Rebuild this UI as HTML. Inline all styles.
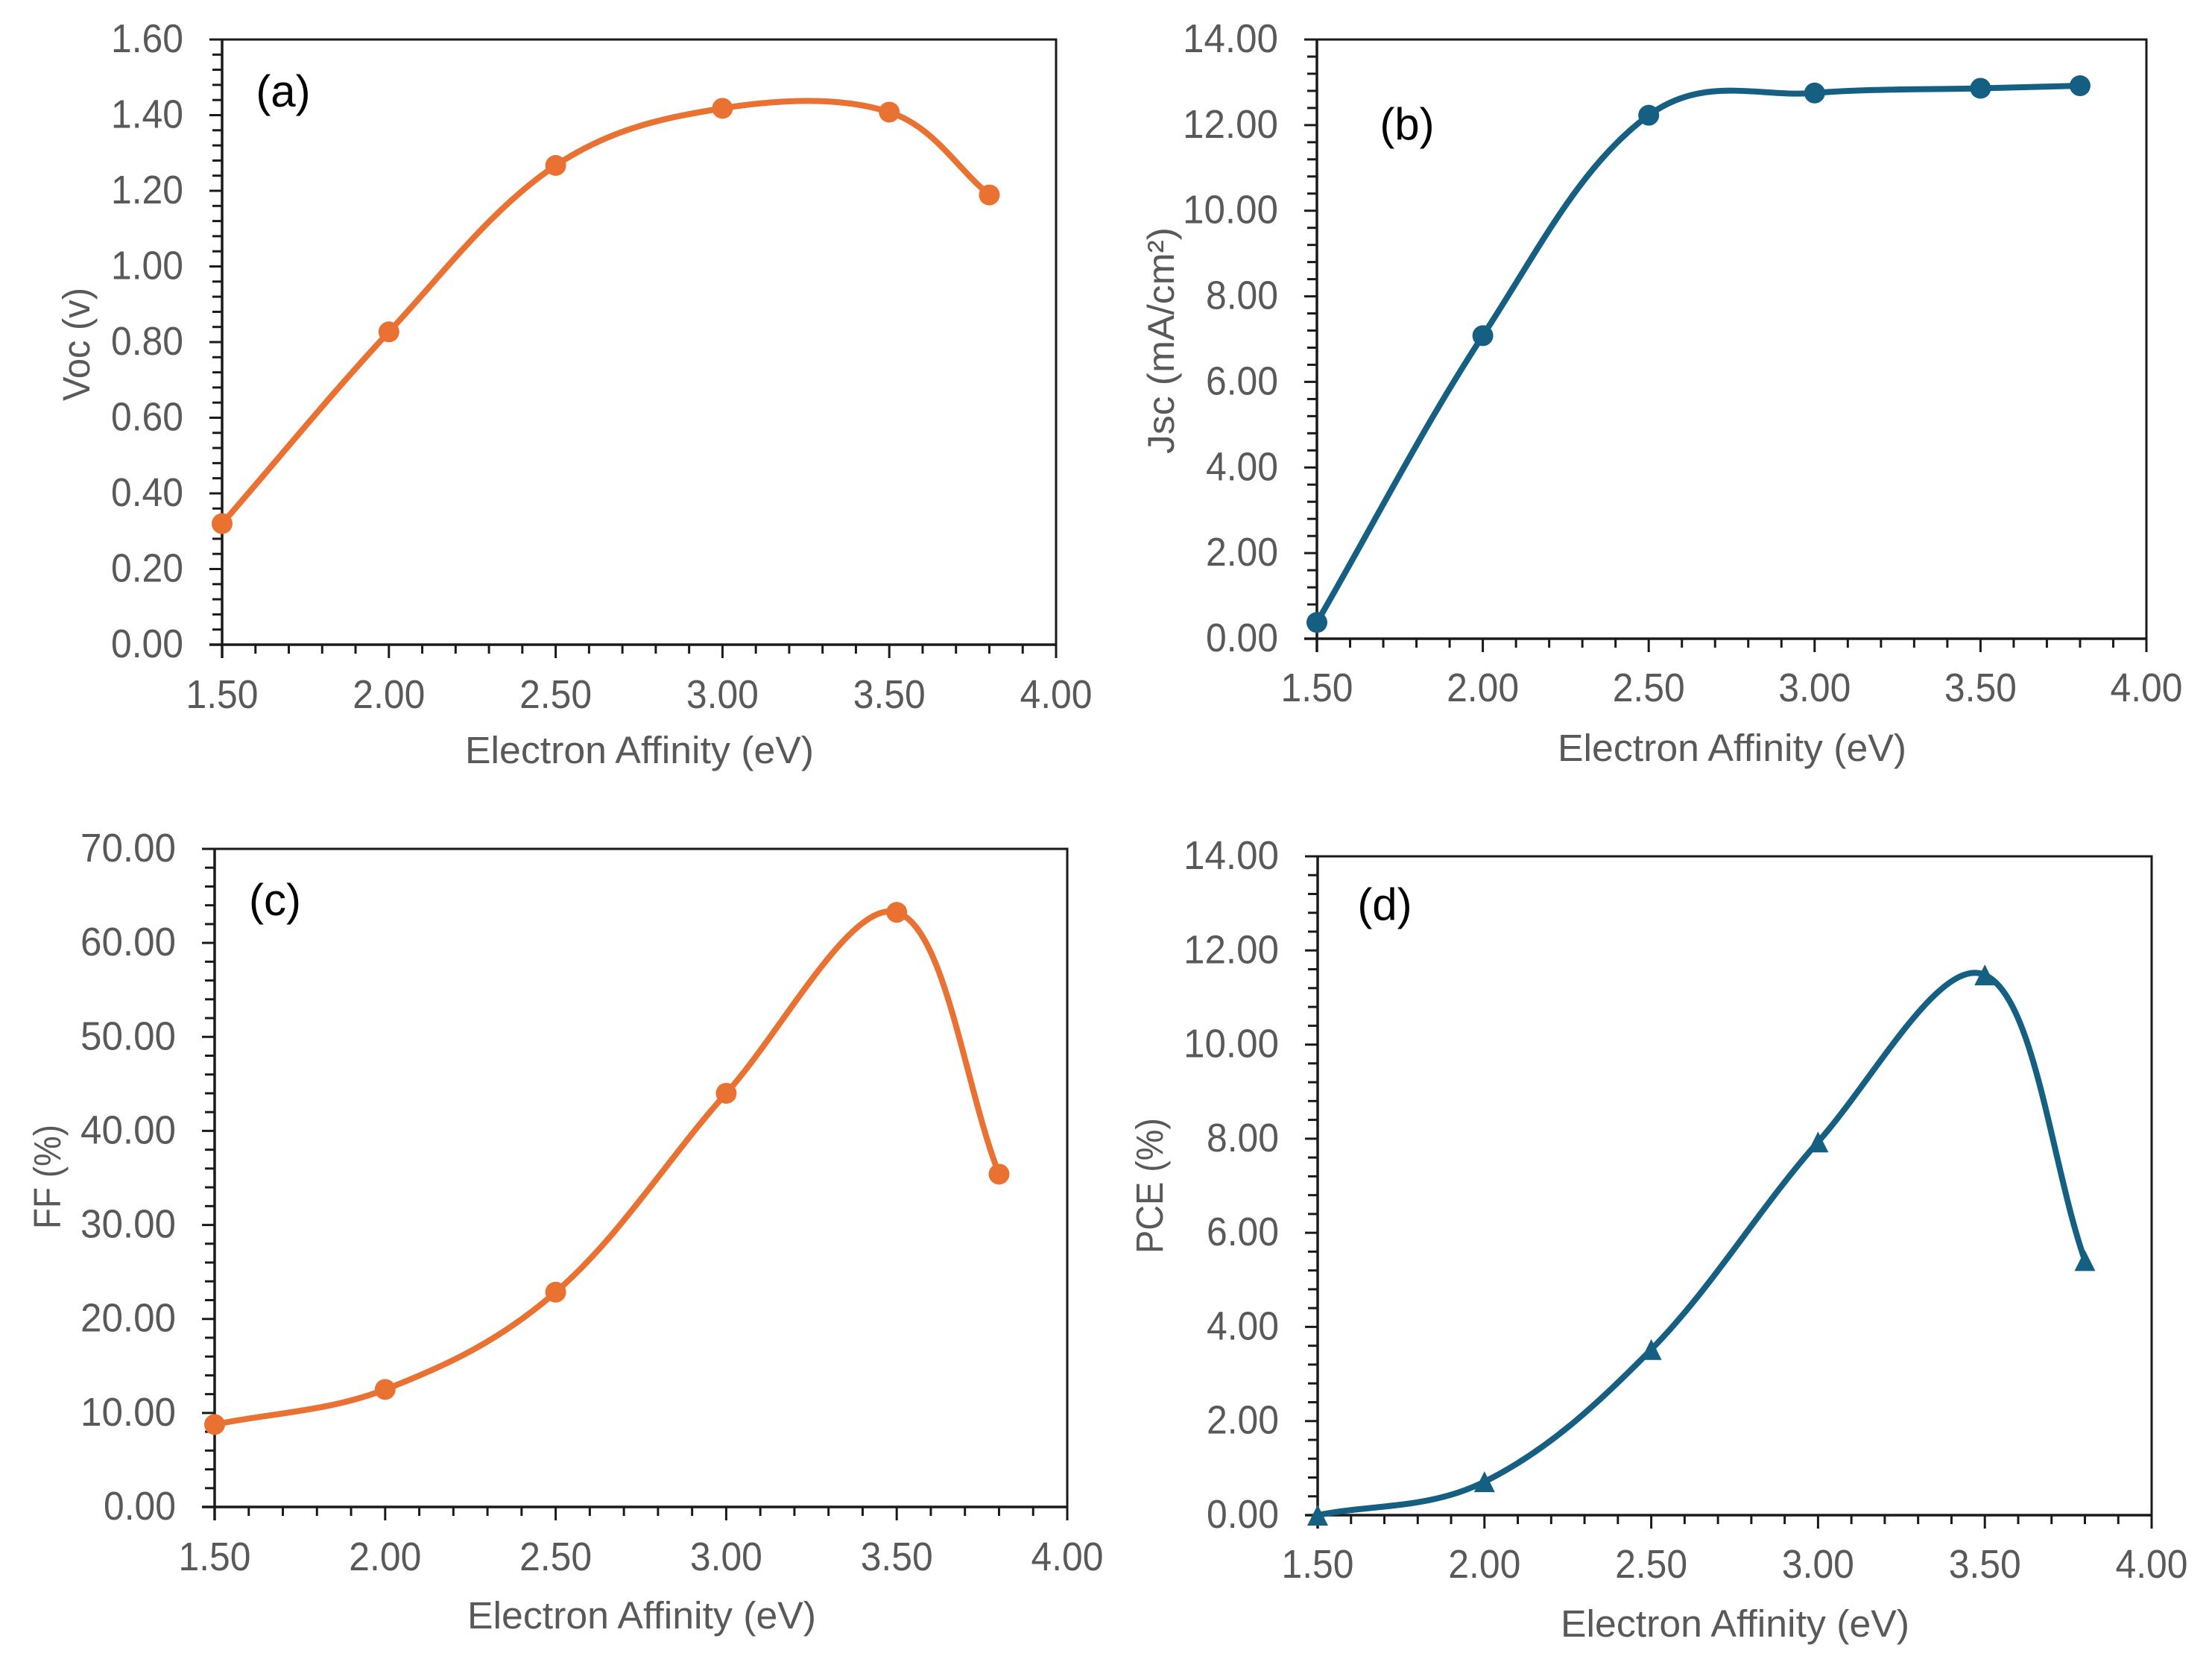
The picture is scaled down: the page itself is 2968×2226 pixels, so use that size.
<!DOCTYPE html>
<html lang="en">
<head>
<meta charset="utf-8">
<title>Electron affinity performance charts</title>
<style>
html,body{margin:0;padding:0;background:#fff;}
svg{display:block;}
text{font-family:"Liberation Sans",sans-serif;fill:#595959;}
.letter{fill:#000;}
</style>
</head>
<body>
<svg id="figure" xmlns="http://www.w3.org/2000/svg" width="2968" height="2226" viewBox="0 0 2968 2226">
<rect x="0" y="0" width="2968" height="2226" fill="#fff"/>

<g id="panel-a">
<text x="858" y="1024" font-size="51" text-anchor="middle" textLength="468" lengthAdjust="spacingAndGlyphs">Electron Affinity (eV)</text>
<text transform="translate(120,462) rotate(-90)" font-size="51" text-anchor="middle" textLength="152" lengthAdjust="spacingAndGlyphs">Voc (v)</text>
<text class="letter" x="380" y="143" font-size="60" text-anchor="middle">(a)</text>
</g>

<g id="panel-b">
<text x="2324" y="1021" font-size="51" text-anchor="middle" textLength="468" lengthAdjust="spacingAndGlyphs">Electron Affinity (eV)</text>
<text transform="translate(1575,457) rotate(-90)" font-size="50" text-anchor="middle" textLength="304" lengthAdjust="spacingAndGlyphs">Jsc (mA/cm²)</text>
<text class="letter" x="1888" y="187" font-size="60" text-anchor="middle">(b)</text>
</g>

<g id="panel-c">
<text x="861" y="2185" font-size="51" text-anchor="middle" textLength="468" lengthAdjust="spacingAndGlyphs">Electron Affinity (eV)</text>
<text transform="translate(81,1579) rotate(-90)" font-size="51" text-anchor="middle" textLength="140" lengthAdjust="spacingAndGlyphs">FF (%)</text>
<text class="letter" x="369" y="1228" font-size="60" text-anchor="middle">(c)</text>
</g>

<g id="panel-d">
<text x="2328" y="2196" font-size="51" text-anchor="middle" textLength="468" lengthAdjust="spacingAndGlyphs">Electron Affinity (eV)</text>
<text transform="translate(1560,1591) rotate(-90)" font-size="51" text-anchor="middle" textLength="182" lengthAdjust="spacingAndGlyphs">PCE (%)</text>
<text class="letter" x="1858" y="1234" font-size="60" text-anchor="middle">(d)</text>
</g>
</svg>

<script>
// Shared category values and tick labels
const electronAffinity = [1.5, 2.0, 2.5, 3.0, 3.5, 3.8];
const xTickLabels = ["1.50", "2.00", "2.50", "3.00", "3.50", "4.00"];

// Series values
const vocValues = [0.32, 0.827, 1.267, 1.418, 1.408, 1.189];
const jscValues = [0.38, 7.08, 12.23, 12.75, 12.86, 12.92];
const ffValues = [8.77, 12.5, 22.85, 44.0, 63.25, 35.4];
const pceValues = [0.0, 0.71, 3.52, 7.93, 11.48, 5.41];

// Y tick labels
const vocTickLabels = ["0.00", "0.20", "0.40", "0.60", "0.80", "1.00", "1.20", "1.40", "1.60"];
const jscTickLabels = ["0.00", "2.00", "4.00", "6.00", "8.00", "10.00", "12.00", "14.00"];
const ffTickLabels = ["0.00", "10.00", "20.00", "30.00", "40.00", "50.00", "60.00", "70.00"];
const pceTickLabels = ["0.00", "2.00", "4.00", "6.00", "8.00", "10.00", "12.00", "14.00"];

const NS = "http://www.w3.org/2000/svg";
const AXIS = "#1a1a1a";
const TENSION = 1 / 3;

function mk(parent, tag, props) {
  const el = document.createElementNS(NS, tag);
  for (const k in props) el.setAttribute(k, props[k]);
  parent.appendChild(el);
  return el;
}

function drawPanel(id, box, yLabels, values, color, marker, labelY) {
  const g = document.getElementById(id);
  const xMin = parseFloat(xTickLabels[0]);
  const xMax = parseFloat(xTickLabels[xTickLabels.length - 1]);
  const yMin = parseFloat(yLabels[0]);
  const yMax = parseFloat(yLabels[yLabels.length - 1]);
  const xScale = v => box.left + (v - xMin) / (xMax - xMin) * (box.right - box.left);
  const yScale = v => box.bottom - (v - yMin) / (yMax - yMin) * (box.bottom - box.top);

  // Frame: top and right
  const frame = mk(g, "path", {
    d: `M${box.left} ${box.top}H${box.right}V${box.bottom}`,
    fill: "none", stroke: AXIS, "stroke-width": 3
  });
  
  

  // X axis
  const xAxis = mk(g, "line", { x1: box.left - 17, x2: box.right, y1: box.bottom, y2: box.bottom, stroke: AXIS, "stroke-width": 3.5 });
  
  

  // Y axis
  const yAxis = mk(g, "line", { x1: box.left, x2: box.left, y1: box.top, y2: box.bottom + 18, stroke: AXIS, "stroke-width": 3.5 });
  
  

  // X ticks and labels
  xTickLabels.forEach((label, i) => {
    const v = parseFloat(label);
    const t = mk(g, "line", { x1: xScale(v), x2: xScale(v), y1: box.bottom, y2: box.bottom + 18, stroke: AXIS, "stroke-width": 3 });
    
    
    const txt = mk(g, "text", { x: xScale(v), y: labelY + 16, "font-size": 54, "text-anchor": "middle", textLength: 97, lengthAdjust: "spacingAndGlyphs" });
    txt.textContent = label;
    
    
    if (i < xTickLabels.length - 1) {
      const next = parseFloat(xTickLabels[i + 1]);
      for (let k = 1; k < 5; k++) {
        const mv = v + (next - v) * k / 5;
        const m = mk(g, "line", { x1: xScale(mv), x2: xScale(mv), y1: box.bottom, y2: box.bottom + 12, stroke: AXIS, "stroke-width": 3 });
        
        
      }
    }
  });

  // Y ticks and labels
  yLabels.forEach((label, i) => {
    const v = parseFloat(label);
    const t = mk(g, "line", { x1: box.left - 17, x2: box.left, y1: yScale(v), y2: yScale(v), stroke: AXIS, "stroke-width": 3 });
    
    
    const txt = mk(g, "text", { x: box.left - 52, y: yScale(v) + 17, "font-size": 54, "text-anchor": "end", textLength: label.length > 4 ? 128 : 97, lengthAdjust: "spacingAndGlyphs" });
    txt.textContent = label;
    
    
    if (i < yLabels.length - 1) {
      const next = parseFloat(yLabels[i + 1]);
      for (let k = 1; k < 5; k++) {
        const mv = v + (next - v) * k / 5;
        const m = mk(g, "line", { x1: box.left - 13, x2: box.left, y1: yScale(mv), y2: yScale(mv), stroke: AXIS, "stroke-width": 3 });
        
        
      }
    }
  });

  // Smoothed line through the points
  const pts = values.map((v, i) => [xScale(electronAffinity[i]), yScale(v)]);
  const dist = (a, b) => Math.hypot(a[0] - b[0], a[1] - b[1]);
  let d = `M${pts[0][0]} ${pts[0][1]}`;
  for (let i = 0; i < pts.length - 1; i++) {
    const p0 = pts[i - 1] || pts[i];
    const p1 = pts[i];
    const p2 = pts[i + 1];
    const p3 = pts[i + 2] || p2;
    const len = dist(p1, p2);
    const a = TENSION * Math.max(0.5, len / (dist(p0, p1) + len));
    const b = TENSION * Math.max(0.5, len / (len + dist(p2, p3)));
    const c1 = [p1[0] + (p2[0] - p0[0]) * a, p1[1] + (p2[1] - p0[1]) * a];
    const c2 = [p2[0] - (p3[0] - p1[0]) * b, p2[1] - (p3[1] - p1[1]) * b];
    d += `C${c1[0]} ${c1[1]} ${c2[0]} ${c2[1]} ${p2[0]} ${p2[1]}`;
  }
  const line = mk(g, "path", { d: d, fill: "none", stroke: color, "stroke-width": 8, "stroke-linejoin": "round", "stroke-linecap": "round" });
  
  

  // Markers
  pts.forEach(p => {
    let m;
    if (marker === "circle") {
      m = mk(g, "circle", { cx: p[0], cy: p[1], r: 14, fill: color });
    } else {
      const s = 14;
      m = mk(g, "polygon", { points: `${p[0]},${p[1] - s} ${p[0] + s},${p[1] + s} ${p[0] - s},${p[1] + s}`, fill: color });
    }
    
    
  });
}

drawPanel("panel-a", { left: 298, right: 1417, top: 53, bottom: 865 }, vocTickLabels, vocValues, "#E97132", "circle", 934);
drawPanel("panel-b", { left: 1767, right: 2880, top: 53, bottom: 857 }, jscTickLabels, jscValues, "#156082", "circle", 925);
drawPanel("panel-c", { left: 288, right: 1432, top: 1139, bottom: 2022 }, ffTickLabels, ffValues, "#E97132", "circle", 2091);
drawPanel("panel-d", { left: 1768, right: 2887, top: 1149, bottom: 2033 }, pceTickLabels, pceValues, "#156082", "triangle", 2101);
</script>
</body>
</html>
